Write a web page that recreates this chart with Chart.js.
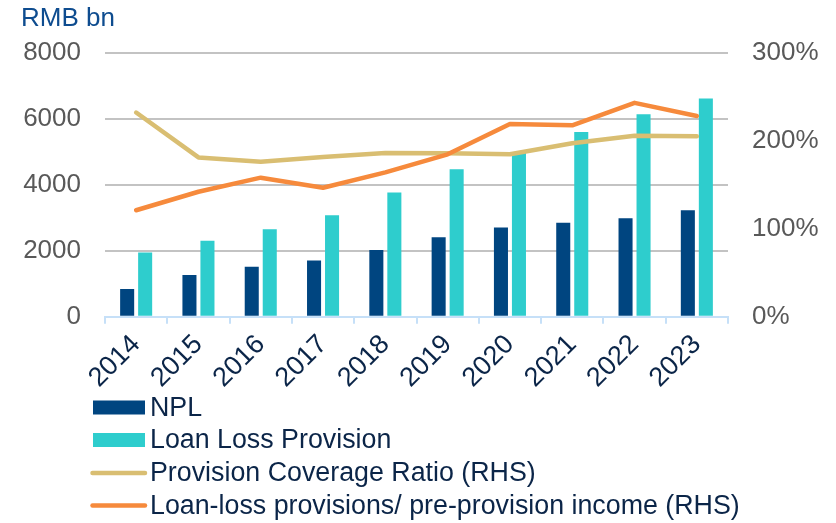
<!DOCTYPE html>
<html>
<head>
<meta charset="utf-8">
<script src="https://cdn.jsdelivr.net/npm/chart.js@4/dist/chart.umd.min.js"></script>
<style>
  html, body { margin: 0; padding: 0; background: #ffffff; }
  #wrap { width: 836px; height: 523px; position: relative; }
</style>
</head>
<body>
<div id="wrap"><canvas id="c" width="836" height="523"></canvas></div>
<script>
const years = ['2014','2015','2016','2017','2018','2019','2020','2021','2022','2023'];
const npl = [840, 1265, 1510, 1700, 2020, 2410, 2700, 2845, 2985, 3225];
const loanLossProvision = [1945, 2305, 2650, 3075, 3760, 4470, 4965, 5600, 6135, 6610];
const provisionCoverageRatio = [232, 181, 176, 181.5, 186, 185.7, 184.5, 197, 205.7, 205];
const llpToPreProvisionIncome = [121, 142, 158, 146.6, 164, 184.5, 219, 217.5, 243, 228];
const leftTicks = [0, 2000, 4000, 6000, 8000];
const rightTicks = [0, 100, 200, 300];

const FONT = "'Liberation Sans', Arial, sans-serif";
const C_NPL = '#004580';
const C_LLP = '#2ecdcd';
const C_PCR = '#d9be72';
const C_LLPI = '#f68a3c';
const C_TEXT = '#0b2548';

const legendPlugin = {
  id: 'customLegend',
  afterDraw(chart) {
    const ctx = chart.ctx;
    const items = [
      { text: 'NPL', color: C_NPL, type: 'box' },
      { text: 'Loan Loss Provision', color: C_LLP, type: 'box' },
      { text: 'Provision Coverage Ratio (RHS)', color: C_PCR, type: 'line' },
      { text: 'Loan-loss provisions/ pre-provision income (RHS)', color: C_LLPI, type: 'line' }
    ];
    const ys = [407.5, 440, 473, 505.5];
    ctx.save();
    ctx.font = '26.8px ' + FONT;
    ctx.textBaseline = 'middle';
    ctx.textAlign = 'left';
    items.forEach((it, i) => {
      const y = ys[i];
      if (it.type === 'box') {
        ctx.fillStyle = it.color;
        ctx.fillRect(93, y - 7, 52, 14);
      } else {
        ctx.strokeStyle = it.color;
        ctx.lineWidth = 4.5;
        ctx.lineCap = 'round';
        ctx.beginPath();
        ctx.moveTo(92.5, y);
        ctx.lineTo(145, y);
        ctx.stroke();
      }
      ctx.fillStyle = C_TEXT;
      ctx.fillText(it.text, 150, y + 1);
    });
    ctx.restore();
  }
};

new Chart(document.getElementById('c'), {
  data: {
    labels: years,
    datasets: [
      { type: 'bar', label: 'NPL', data: npl, backgroundColor: C_NPL, yAxisID: 'y', order: 3,
        categoryPercentage: 0.578, barPercentage: 0.78 },
      { type: 'bar', label: 'Loan Loss Provision', data: loanLossProvision, backgroundColor: C_LLP, yAxisID: 'y', order: 3,
        categoryPercentage: 0.578, barPercentage: 0.78 },
      { type: 'line', label: 'Provision Coverage Ratio (RHS)', data: provisionCoverageRatio, borderColor: C_PCR,
        borderWidth: 4.5, pointRadius: 0, tension: 0, borderCapStyle: 'round', borderJoinStyle: 'round', yAxisID: 'y1', order: 2 },
      { type: 'line', label: 'Loan-loss provisions/ pre-provision income (RHS)', data: llpToPreProvisionIncome, borderColor: C_LLPI,
        borderWidth: 4.5, pointRadius: 0, tension: 0, borderCapStyle: 'round', borderJoinStyle: 'round', yAxisID: 'y1', order: 1 }
    ]
  },
  options: {
    responsive: false,
    animation: false,
    devicePixelRatio: 1,
    layout: { padding: { left: 21, right: 0, top: 0, bottom: 0 } },
    plugins: {
      legend: { display: false },
      tooltip: { enabled: false },
      title: {
        display: true, text: 'RMB bn', align: 'start', color: '#0e4c8f',
        font: { family: FONT, size: 26, weight: 'normal' },
        padding: { top: 3, bottom: 18.5 }
      }
    },
    scales: {
      x: {
        grid: { drawOnChartArea: false, drawTicks: true, tickLength: 7, color: '#c6e0f8', lineWidth: 2, offset: true },
        border: { display: true, color: '#c6e0f8', width: 2 },
        ticks: { color: C_TEXT, font: { family: FONT, size: 27 }, minRotation: 45, maxRotation: 45, padding: 5 },
        afterFit(s) { s.height = 523 - 316.7; }
      },
      y: {
        position: 'left', min: 0, max: 8000,
        afterBuildTicks(s) { s.ticks = leftTicks.map(v => ({ value: v })); },
        grid: { drawTicks: false, lineWidth: 2, color: ctx => ctx.tick && ctx.tick.value === 0 ? 'rgba(0,0,0,0)' : '#c3c3c3' },
        border: { display: false },
        ticks: { color: '#595959', font: { family: FONT, size: 26 }, padding: 24, callback: v => String(v) },
        afterFit(s) { s.width = 105 - 21; }
      },
      y1: {
        position: 'right', min: 0, max: 300,
        afterBuildTicks(s) { s.ticks = rightTicks.map(v => ({ value: v })); },
        grid: { display: false, drawTicks: false },
        border: { display: false },
        ticks: { color: '#595959', font: { family: FONT, size: 26 }, padding: 24, callback: v => v + '%' },
        afterFit(s) { s.width = 836 - 728; }
      }
    }
  },
  plugins: [legendPlugin]
});
</script>
</body>
</html>
